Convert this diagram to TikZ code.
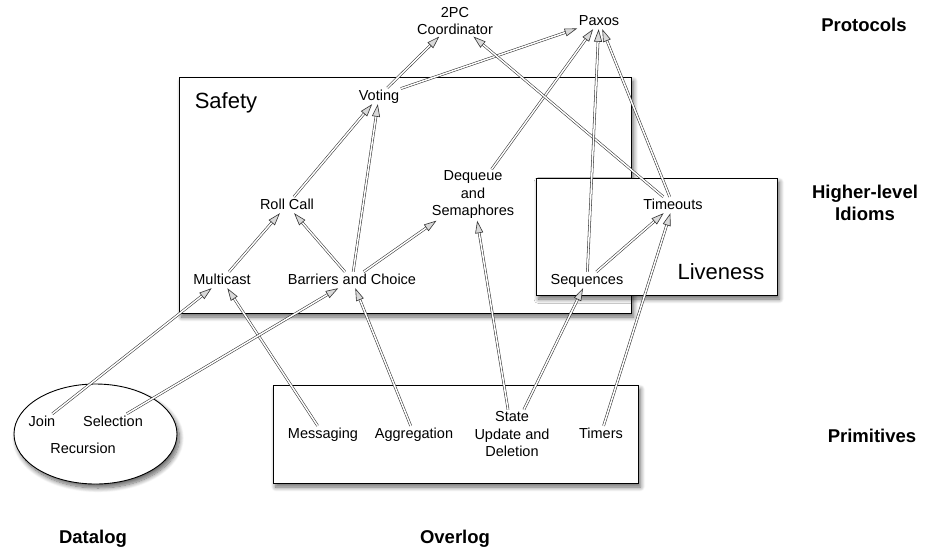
\documentclass[tikz,border=0pt]{standalone}
\usepackage{fontspec}
\setmainfont{Liberation Sans}
\usetikzlibrary{arrows.meta,shadows.blur,shapes.geometric}
\tikzset{
  lbl/.style={font=\fontsize{14.5}{17.5}\selectfont, align=center, inner sep=1.5pt, text height=10.5pt, text depth=2.5pt},
  mlbl/.style={font=\fontsize{14.5}{17.5}\selectfont, align=center, inner sep=1.5pt},
  title/.style={font=\bfseries\fontsize{18.5}{22}\selectfont, align=center, inner sep=0pt},
  big/.style={font=\fontsize{22}{26}\selectfont, inner sep=0pt},
  box/.style={draw=black, line width=0.9pt, fill=white, inner sep=0pt,
    blur shadow={shadow xshift=2.5pt, shadow yshift=-4pt, shadow blur steps=10, shadow opacity=60, shadow blur radius=4.5pt}},
  dbl/.style={draw=black!80, line width=0.55pt, double=white, double distance=1.5pt,
    -{Triangle[length=12.5pt,width=8pt,fill=black!15,line width=0.6pt]}}
}
\begin{document}
\begin{tikzpicture}[x=1pt,y=-1pt]
\useasboundingbox (0,0) rectangle (928,552);
% containers
\node[box, minimum width=452pt, minimum height=236pt] (safetybox) at (405,195) {};
\node[box, minimum width=241pt, minimum height=117pt] (livebox) at (656.5,236.5) {};
\node[box, minimum width=365pt, minimum height=98pt] (overbox) at (455.5,434) {};
\node[box, ellipse, minimum width=163pt, minimum height=100pt] (datalogell) at (95.5,434) {};
\node[big] (safetylbl) at (226,103) {Safety};
\node[big] (livelbl) at (721,272) {Liveness};
% layer labels
\node[title] (protocols) at (864,25) {Protocols};
\node[title] (higher) at (865,203) {Higher-level\\Idioms};
\node[title] (primitives) at (872,436) {Primitives};
\node[title] (datalog) at (93,539) {Datalog};
\node[title] (overlog) at (455,539) {Overlog};
% items
\node[mlbl] (coord) at (455,21) {2PC\\Coordinator};
\node[lbl] (paxos) at (599,21) {Paxos};
\node[lbl] (voting) at (379,96) {Voting};
\node[lbl] (roll) at (287,205) {Roll Call};
\node[lbl] (multi) at (222,280) {Multicast};
\node[lbl] (barr) at (352,280) {Barriers and Choice};
\node[mlbl] (deq) at (473,195) {Dequeue\\and\\Semaphores};
\node[lbl] (timeouts) at (673,205) {Timeouts};
\node[lbl] (seq) at (587,280) {Sequences};
\node[lbl] (join) at (42,422) {Join};
\node[lbl] (sel) at (113,422) {Selection};
\node[lbl] (rec) at (83,449) {Recursion};
\node[lbl] (msg) at (323,434) {Messaging};
\node[lbl] (agg) at (414,434) {Aggregation};
\node[mlbl] (state) at (512,434) {State\\Update and\\Deletion};
\node[lbl] (timers) at (601,434) {Timers};
% connectors
\draw[dbl] (voting) -- (coord);
\draw[dbl] (voting) -- (paxos);
\draw[dbl] (roll) -- (voting);
\draw[dbl] (barr) -- (voting);
\draw[dbl] (multi) -- (roll);
\draw[dbl] (barr) -- (roll);
\draw[dbl] (barr) -- (deq);
\draw[dbl] (deq) -- (paxos);
\draw[dbl] (timeouts) -- (coord);
\draw[dbl] (timeouts) -- (paxos);
\draw[dbl] (seq) -- (paxos);
\draw[dbl] (seq) -- (timeouts);
\draw[dbl] (timers) -- (timeouts);
\draw[dbl] (state) -- (seq);
\draw[dbl] (state) -- (deq);
\draw[dbl] (agg) -- (barr);
\draw[dbl] (msg) -- (multi);
\draw[dbl] (join) -- (multi);
\draw[dbl] (sel) -- (barr);
\end{tikzpicture}
\end{document}
